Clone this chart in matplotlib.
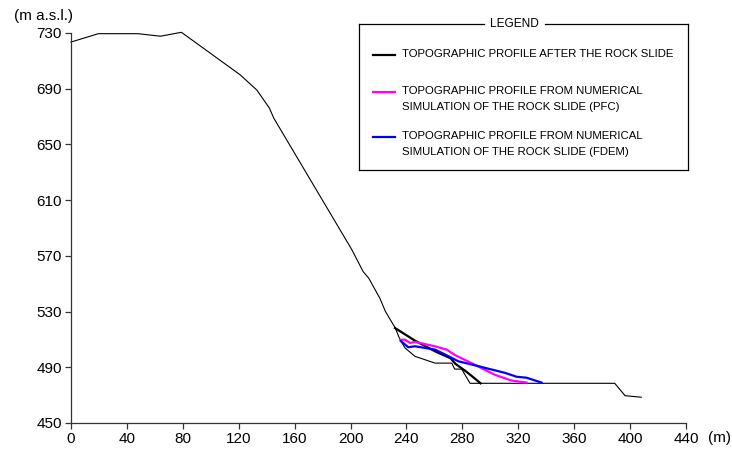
import matplotlib
matplotlib.use("Agg")
import matplotlib.pyplot as plt
from matplotlib.lines import Line2D

plt.rcParams["font.family"] = ["Liberation Sans", "DejaVu Sans"]

# profile before the rock slide (thin line, full section)
pre_x = [0, 19.5, 48, 64, 79, 121, 133, 142, 145, 201, 209, 213, 221, 225,
         232, 235.4, 239, 246, 260.4, 272.4, 274.5, 279.5, 285.5, 389, 396.4, 408]
pre_y = [723.5, 729.5, 729.5, 727.7, 730.5, 700, 689, 676, 669, 574.3, 558.7, 554, 539.5, 530,
         518.2, 509.8, 503.9, 497.9, 493, 493, 488.7, 488.7, 478.5, 478.5, 469.6, 468.5]

# profile after the rock slide
after_x = [231.8, 246.1, 260.4, 271.5, 275, 282, 287, 293]
after_y = [518.2, 509.1, 501.5, 496.5, 492.5, 487.5, 483.5, 478.5]

# numerical simulation PFC
pfc_x = [235.4, 239, 242.5, 246.1, 260.4, 268.8, 274.7, 291.4, 303.3, 315.2, 326]
pfc_y = [509.8, 509.8, 507.5, 508.2, 505.1, 502.7, 498.8, 490.6, 484.6, 480.5, 479]

# numerical simulation FDEM
fdem_x = [236.1, 241.3, 246.1, 260.4, 268, 277.1, 286.7, 296.2, 310.5, 318.8, 326, 336.7]
fdem_y = [508.7, 504.4, 505.1, 502.7, 499, 494.3, 492, 489.6, 486, 483.2, 482.5, 479]

xticks = list(range(0, 441, 40))
yticks = list(range(450, 731, 40))

labels = ["TOPOGRAPHIC PROFILE AFTER THE ROCK SLIDE",
          "TOPOGRAPHIC PROFILE FROM NUMERICAL\nSIMULATION OF THE ROCK SLIDE (PFC)",
          "TOPOGRAPHIC PROFILE FROM NUMERICAL\nSIMULATION OF THE ROCK SLIDE (FDEM)"]
colors = ["black", "#ff00ff", "#0000ff"]

W, H = 732, 450
fig = plt.figure(figsize=(W / 100, H / 100), dpi=100)
ax = fig.add_axes([71 / W, 1 - 423 / H, 615 / W, 390 / H])

ax.plot(pre_x, pre_y, color="black", lw=0.8, clip_on=False)
ax.plot(after_x, after_y, color=colors[0], lw=1.6)
ax.plot(pfc_x, pfc_y, color=colors[1], lw=1.6)
ax.plot(fdem_x, fdem_y, color=colors[2], lw=1.6)

ax.set_xlim(0, 440)
ax.set_ylim(450, 730)
ax.set_xticks(xticks)
ax.set_yticks(yticks)
for s in ["top", "right"]:
    ax.spines[s].set_visible(False)
for s in ["left", "bottom"]:
    ax.spines[s].set_color("#333333")
    ax.spines[s].set_linewidth(0.9)
ax.tick_params(direction="out", length=4.5, width=0.9, color="#333333",
               labelsize=11, pad=2)

fig.text(14 / W, 1 - 16 / H, "(m a.s.l.)", fontsize=11, va="center", ha="left")
fig.text(708 / W, 1 - 438 / H, "(m)", fontsize=11, va="center", ha="left")

# legend box drawn in figure pixels
bx0, by0, bx1, by1 = 359, 24, 688, 170
for (xa, ya), (xb, yb) in [[(bx0, by0), (484, by0)], [(545, by0), (bx1, by0)],
                           [(bx1, by0), (bx1, by1)], [(bx1, by1), (bx0, by1)],
                           [(bx0, by1), (bx0, by0)]]:
    fig.add_artist(Line2D([xa / W, xb / W], [1 - ya / H, 1 - yb / H],
                          color="black", lw=0.9, transform=fig.transFigure))
fig.text(514 / W, 1 - by0 / H, "LEGEND", fontsize=8.6, ha="center", va="center")

rows = [55, 92, 137]
for lab, col, ry in zip(labels, colors, rows):
    fig.add_artist(Line2D([373 / W, 395 / W], [1 - ry / H, 1 - ry / H],
                          color=col, lw=1.6, transform=fig.transFigure))
    fig.text(402 / W, 1 - (ry - 6) / H, lab, fontsize=8.2, ha="left", va="top",
             linespacing=1.7)

fig.savefig("out.png", dpi=100)
